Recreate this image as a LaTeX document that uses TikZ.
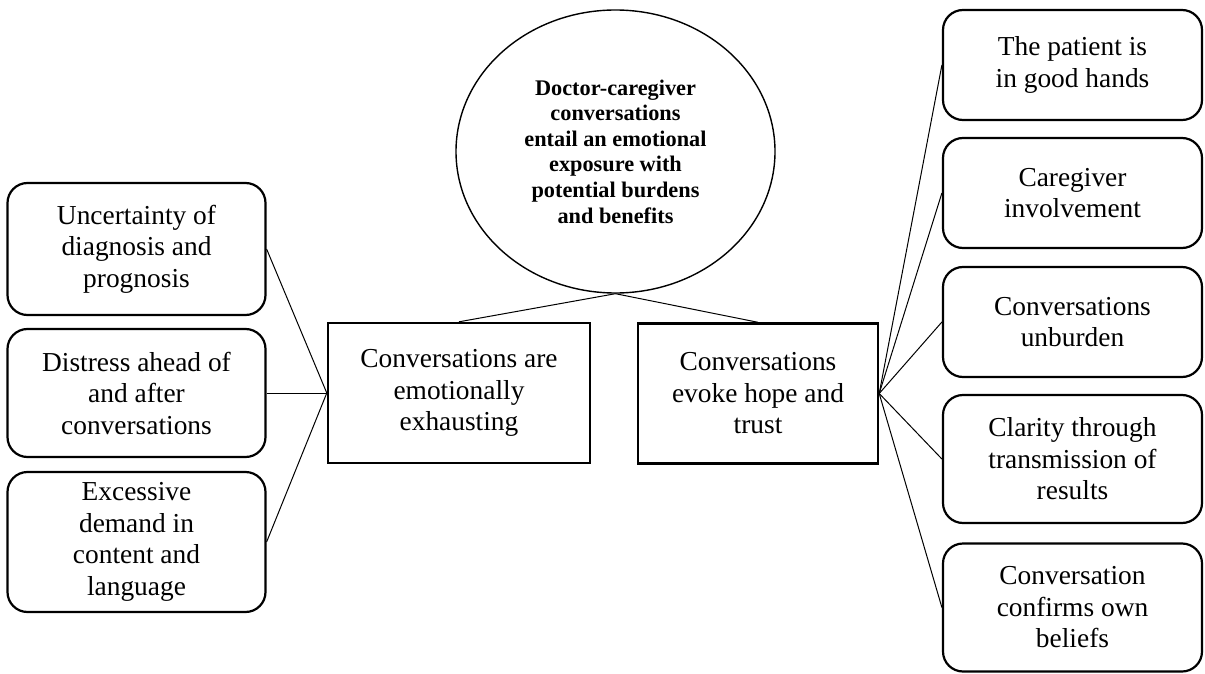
\documentclass[tikz,border=0pt]{standalone}
\usepackage{fontspec}
\setmainfont{Liberation Serif}
\usetikzlibrary{shapes.geometric}
\begin{document}
\begin{tikzpicture}[x=1pt,y=-1pt,
  txt/.style={align=center,font=\fontsize{27.4}{31.5}\selectfont,inner sep=0pt},
  roundbox/.style={txt,draw,line width=2.2pt,rounded corners=20pt,minimum width=258pt},
  squarebox/.style={txt,draw,line width=2.4pt,minimum height=140pt},
  coreell/.style={ellipse,draw,line width=1.4pt,minimum width=319pt,minimum height=283pt,inner sep=0pt,align=center,font=\fontsize{22.3}{25.6}\selectfont\bfseries},
  link/.style={line width=1pt}]
\useasboundingbox (0,0) rectangle (1205,674);
% core
\node[coreell] (core) at (615.5,151.5) {Doctor-caregiver\\conversations\\entail an emotional\\exposure with\\potential burdens\\and benefits};
% center boxes
\node[squarebox,minimum width=262pt] (le) at (459,393) {Conversations are\\emotionally\\exhausting};
\node[squarebox,minimum width=240pt] (re) at (758,393.5) {Conversations\\evoke hope and\\trust};
% left boxes
\node[roundbox,minimum height=132pt] (l1) at (136.5,249) {Uncertainty of\\diagnosis and\\prognosis};
\node[roundbox,minimum height=128pt] (l2) at (136.5,393) {Distress ahead of\\and after\\conversations};
\node[roundbox,minimum height=140pt] (l3) at (136.5,542) {Excessive\\demand in\\content and\\language};
% right boxes
\node[roundbox,minimum width=259pt,minimum height=110pt] (r1) at (1072.5,65) {The patient is\\in good hands};
\node[roundbox,minimum width=259pt,minimum height=110pt] (r2) at (1072.5,193) {Caregiver\\involvement};
\node[roundbox,minimum width=259pt,minimum height=110pt] (r3) at (1072.5,322) {Conversations\\unburden};
\node[roundbox,minimum width=259pt,minimum height=128pt] (r4) at (1072.5,459) {Clarity through\\transmission of\\results};
\node[roundbox,minimum width=259pt,minimum height=128pt] (r5) at (1072.5,607.5) {Conversation\\confirms own\\beliefs};
% connectors
\draw[link] (core.south) -- (le.north);
\draw[link] (core.south) -- (re.north);
\foreach \n in {l1,l2,l3} \draw[link] (\n.east) -- (le.west);
\foreach \n in {r1,r2,r3,r4,r5} \draw[link] (re.east) -- (\n.west);
\end{tikzpicture}
\end{document}
